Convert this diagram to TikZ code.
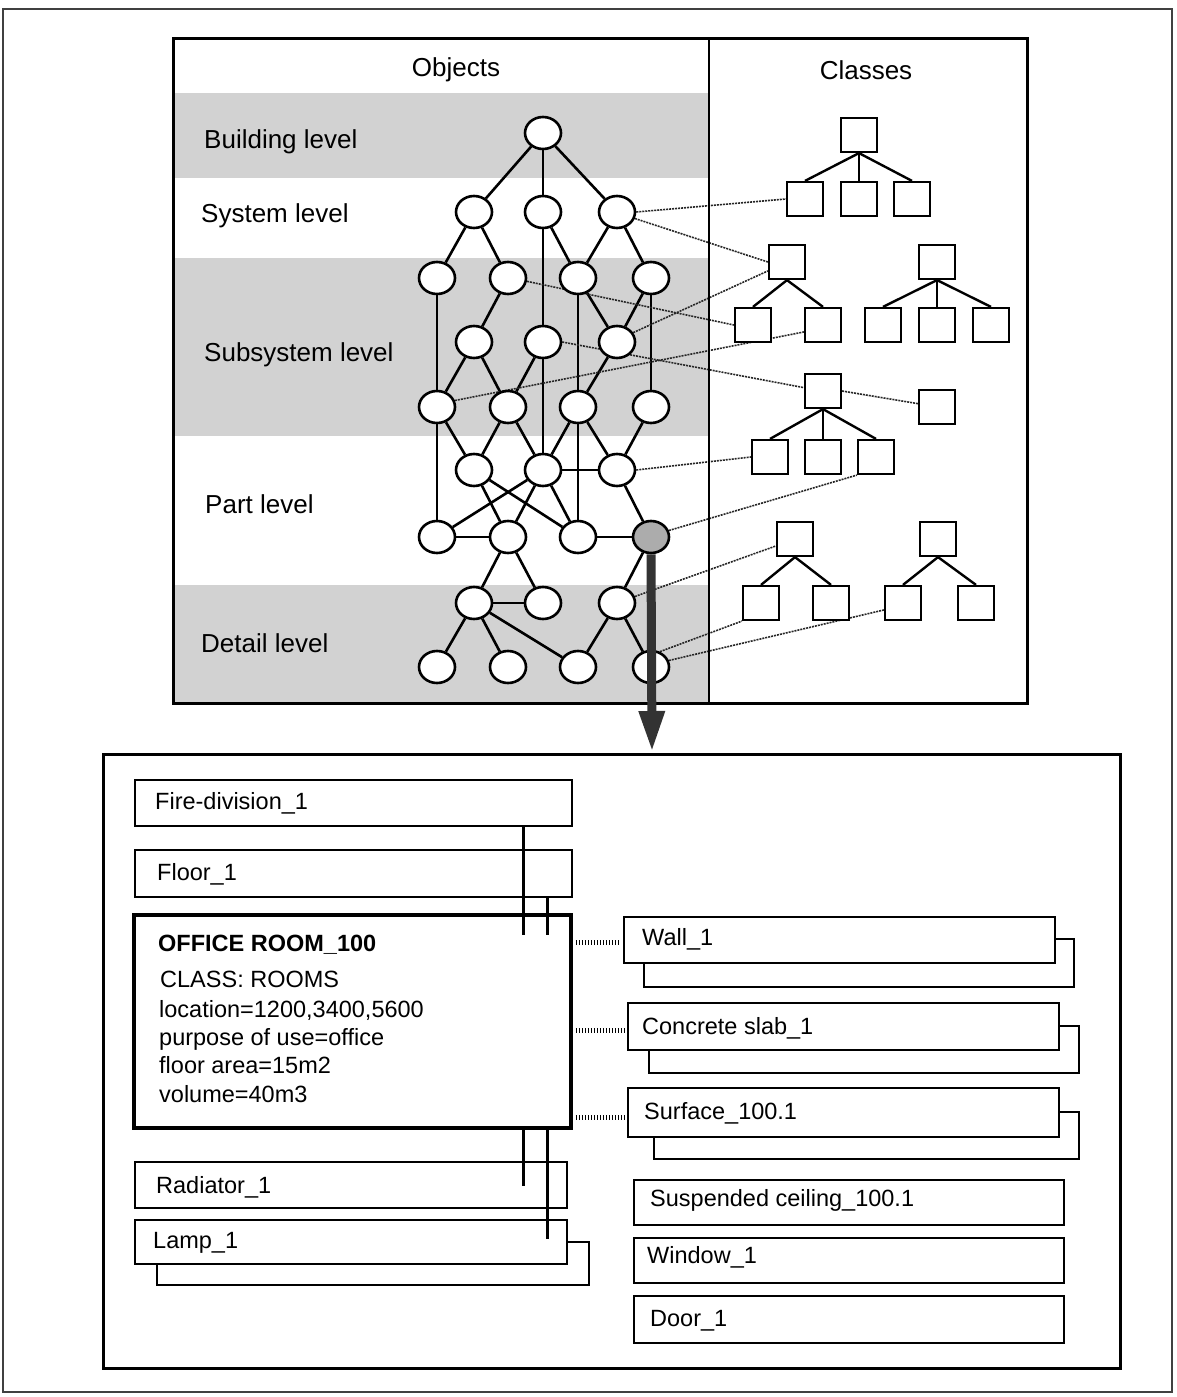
\documentclass[tikz,border=0pt]{standalone}
\usepackage{fontspec}
\setmainfont{Liberation Sans}
\usetikzlibrary{arrows.meta,shapes.geometric,calc}
\pgfdeclarelayer{back}
\pgfdeclarelayer{mid}
\pgfsetlayers{back,mid,main}
\begin{document}
\begin{tikzpicture}[x=1pt,y=-1pt,
 obj/.style={ellipse,draw,line width=2.6pt,fill=white,minimum width=36pt,minimum height=32pt,inner sep=0pt},
 objshade/.style={obj,fill=gray!65},
 cls/.style={rectangle,draw,line width=2.2pt,fill=white,minimum width=36pt,minimum height=34pt,inner sep=0pt},
 edge/.style={line width=2.6pt},
 clsedge/.style={line width=2.4pt},
 link/.style={line width=1.6pt,dash pattern=on 2pt off 1pt,draw=black!85},
 lvl/.style={anchor=base west,inner sep=0pt,font=\fontsize{26}{30}\selectfont},
 hdr/.style={anchor=base,inner sep=0pt,font=\fontsize{26}{30}\selectfont},
 txt/.style={anchor=base west,inner sep=0pt,font=\fontsize{23.5}{28}\selectfont},
 ibox/.style={rectangle,draw,line width=2.2pt,fill=white,inner sep=0pt},
 hatch/.style={line width=5pt,dash pattern=on 1.5pt off 1.5pt},
 conn/.style={line width=3pt},
 band/.style={fill=gray!35,draw=none}]
\useasboundingbox (0,0) rectangle (1176,1397);

% outer frame
\draw[line width=1.5pt,draw=black!75] (3,9) rectangle (1172,1392);

% ---------- top panel ----------
\begin{pgfonlayer}{back}
\fill[band] (175,93) rectangle (708,178);
\fill[band] (175,258) rectangle (708,436);
\fill[band] (175,585) rectangle (708,703);
\end{pgfonlayer}
\draw[line width=3pt] (173,39) rectangle (1027,703);
\draw[line width=2.2pt] (709,39) -- (709,703);

\node[hdr] (hobj) at (456,77) {Objects};
\node[hdr] (hcls) at (866,80) {Classes};
\node[lvl] (lb) at (204,148) {Building level};
\node[lvl] (ls) at (201,222) {System level};
\node[lvl] (lss) at (204,361) {Subsystem level};
\node[lvl] (lp) at (205,513) {Part level};
\node[lvl] (ld) at (201,652) {Detail level};

% object nodes
\node[obj] (r0) at (543,133) {};
\foreach \n/\x in {a/474,b/543,c/617}{
  \node[obj] (r1\n) at (\x,212) {};
  \node[obj] (r3\n) at (\x,342) {};
  \node[obj] (r5\n) at (\x,470) {};
  \node[obj] (r7\n) at (\x,603) {};
}
\foreach \n/\x in {a/437,b/508,c/578,d/651}{
  \node[obj] (r2\n) at (\x,278) {};
  \node[obj] (r4\n) at (\x,407) {};
  \node[obj] (r8\n) at (\x,667) {};
}
\foreach \n/\x in {a/437,b/508,c/578}{
  \node[obj] (r6\n) at (\x,537) {};
}
\node[objshade] (r6d) at (651,537) {};

% class nodes
\node[cls] (c1t) at (859,135) {};
\node[cls] (c1a) at (805,199) {};
\node[cls] (c1b) at (859,199) {};
\node[cls] (c1c) at (912,199) {};
\node[cls] (c2t) at (787,262) {};
\node[cls] (c2a) at (753,325) {};
\node[cls] (c2b) at (823,325) {};
\node[cls] (c3t) at (937,262) {};
\node[cls] (c3a) at (883,325) {};
\node[cls] (c3b) at (937,325) {};
\node[cls] (c3c) at (991,325) {};
\node[cls] (c4t) at (823,391) {};
\node[cls] (c4s) at (937,407) {};
\node[cls] (c4a) at (770,457) {};
\node[cls] (c4b) at (823,457) {};
\node[cls] (c4c) at (876,457) {};
\node[cls] (c5t) at (795,539) {};
\node[cls] (c5a) at (761,603) {};
\node[cls] (c5b) at (831,603) {};
\node[cls] (c6t) at (938,539) {};
\node[cls] (c6a) at (903,603) {};
\node[cls] (c6b) at (976,603) {};

\begin{pgfonlayer}{mid}
% object hierarchy edges
\foreach \a/\b in {r0/r1a,r0/r1b,r0/r1c,
  r1a/r2a,r1a/r2b,r1b/r3b,r1b/r2c,r1c/r2c,r1c/r2d,
  r2a/r4a,r2b/r3a,r2c/r3c,r2c/r4c,r2d/r3c,r2d/r4d,
  r3a/r4a,r3a/r4b,r3b/r4b,r3b/r5b,r3c/r4c,
  r4a/r5a,r4b/r5a,r4b/r5b,r4c/r5b,r4c/r5c,r4d/r5c,r4a/r6a,r4c/r6c,
  r5a/r6b,r5a/r6c,r5b/r6a,r5b/r6b,r5b/r6c,r5b/r5c,r5c/r6d,
  r6a/r6b,r6c/r6d,r6b/r7a,r6b/r7b,r6d/r7c,
  r7a/r7b,r7a/r8a,r7a/r8b,r7a/r8c,r7c/r8c,r7c/r8d}
  \draw[edge] (\a) -- (\b);
% class tree edges
\foreach \p/\c in {c1t/c1a,c1t/c1b,c1t/c1c,c2t/c2a,c2t/c2b,c3t/c3a,c3t/c3b,c3t/c3c,
  c4t/c4a,c4t/c4b,c4t/c4c,c5t/c5a,c5t/c5b,c6t/c6a,c6t/c6b}
  \draw[clsedge] (\p.south) -- (\c.north);
% object-class links
\draw[link] (r1c.east) -- (c1a.west);
\draw[link] (r1c.-20) -- (c2t.west);
\draw[link] (r2b.-10) -- (c2a.west);
\draw[link] (r3c.30) -- (c2t.205);
\draw[link] (r4a.20) -- (c2b.200);
\draw[link] (r3b.east) -- (c4t.170);
\draw[link] (c4t.east) -- (c4s.170);
\draw[link] (r5c.east) -- (c4a.west);
\draw[link] (r6d.20) -- (c4c.south west);
\draw[link] (r7c.20) -- (c5t.200);
\draw[link] (r8d.60) -- (c5a.south west);
\draw[link] (r8d.20) -- (c6a.200);
\end{pgfonlayer}

% big arrow
\coordinate (arrtip) at (652,752);
\draw[line width=9pt,draw=black!80,-{Triangle[length=41pt,width=24pt]}] (r6d.south) -- (arrtip);

% ---------- bottom panel ----------
\draw[line width=3pt] (103,754) rectangle (1120,1368);

\node[ibox,minimum width=437pt,minimum height=46pt] (fire) at (353.5,803) {};
\node[ibox,minimum width=437pt,minimum height=47pt] (floor) at (353.5,873.5) {};
\node[ibox,line width=3.6pt,minimum width=437pt,minimum height=213pt] (room) at (352.5,1021.5) {};
\node[ibox,minimum width=432pt,minimum height=46pt] (rad) at (351,1185) {};
\draw[line width=2.2pt] (157,1264) -- (157,1285) -- (589,1285) -- (589,1242) -- (567,1242);
\node[ibox,minimum width=432pt,minimum height=44pt] (lamp) at (351,1242) {};

\node[ibox,minimum width=431pt,minimum height=46pt] (wall) at (839.5,940) {};
\draw[line width=2.2pt] (wall.south west) ++(21,0) -- ++(0,23) -- ++(430,0) -- ++(0,-48) -- ++(-20,0);
\node[ibox,minimum width=431pt,minimum height=47pt] (slab) at (843.5,1026.5) {};
\draw[line width=2.2pt] (slab.south west) ++(22,0) -- ++(0,22) -- ++(430,0) -- ++(0,-47) -- ++(-21,0);
\node[ibox,minimum width=431pt,minimum height=49pt] (surf) at (843.5,1112.5) {};
\draw[line width=2.2pt] (surf.south west) ++(27,0) -- ++(0,21) -- ++(425,0) -- ++(0,-47) -- ++(-21,0);
\node[ibox,minimum width=430pt,minimum height=45pt] (ceil) at (849,1202.5) {};
\node[ibox,minimum width=430pt,minimum height=45pt] (win) at (849,1260.5) {};
\node[ibox,minimum width=430pt,minimum height=47pt] (door) at (849,1319.5) {};

% texts
\node[txt] (tfire) at (155,809) {Fire-division\_1};
\node[txt] (tfloor) at (157,880) {Floor\_1};
\node[txt,font=\fontsize{23.5}{28}\selectfont\bfseries] (troom) at (158,951) {OFFICE ROOM\_100};
\node[txt] (tr1) at (160,987) {CLASS: ROOMS};
\node[txt] (tr2) at (159,1017) {location=1200,3400,5600};
\node[txt] (tr3) at (159,1045) {purpose of use=office};
\node[txt] (tr4) at (159,1073) {floor area=15m2};
\node[txt] (tr5) at (159,1102) {volume=40m3};
\node[txt] (trad) at (156,1193) {Radiator\_1};
\node[txt] (tlamp) at (153,1248) {Lamp\_1};
\node[txt] (twall) at (642,945) {Wall\_1};
\node[txt] (tslab) at (642,1034) {Concrete slab\_1};
\node[txt] (tsurf) at (644,1119) {Surface\_100.1};
\node[txt] (tceil) at (650,1206) {Suspended ceiling\_100.1};
\node[txt] (twin) at (647,1263) {Window\_1};
\node[txt] (tdoor) at (650,1326) {Door\_1};

% part-of connectors
\coordinate (ca) at (523,0);
\coordinate (cb) at (547,0);
\draw[conn] (fire.south -| ca) -- ($(room.north -| ca)+(0,22)$);
\draw[conn] (floor.south -| cb) -- ($(room.north -| cb)+(0,22)$);
\draw[conn] (room.south -| ca) -- ($(rad.north -| ca)+(0,25)$);
\draw[conn] (room.south -| cb) -- ($(lamp.north -| cb)+(0,20)$);

% links to other objects
\draw[hatch] ($(room.east |- wall.west)+(3,2)$) -- ($(wall.west)+(-3,2)$);
\draw[hatch] ($(room.east |- slab.west)+(3,4)$) -- ($(slab.west)+(-3,4)$);
\draw[hatch] ($(room.east |- surf.west)+(3,5)$) -- ($(surf.west)+(-3,5)$);
\end{tikzpicture}
\end{document}
